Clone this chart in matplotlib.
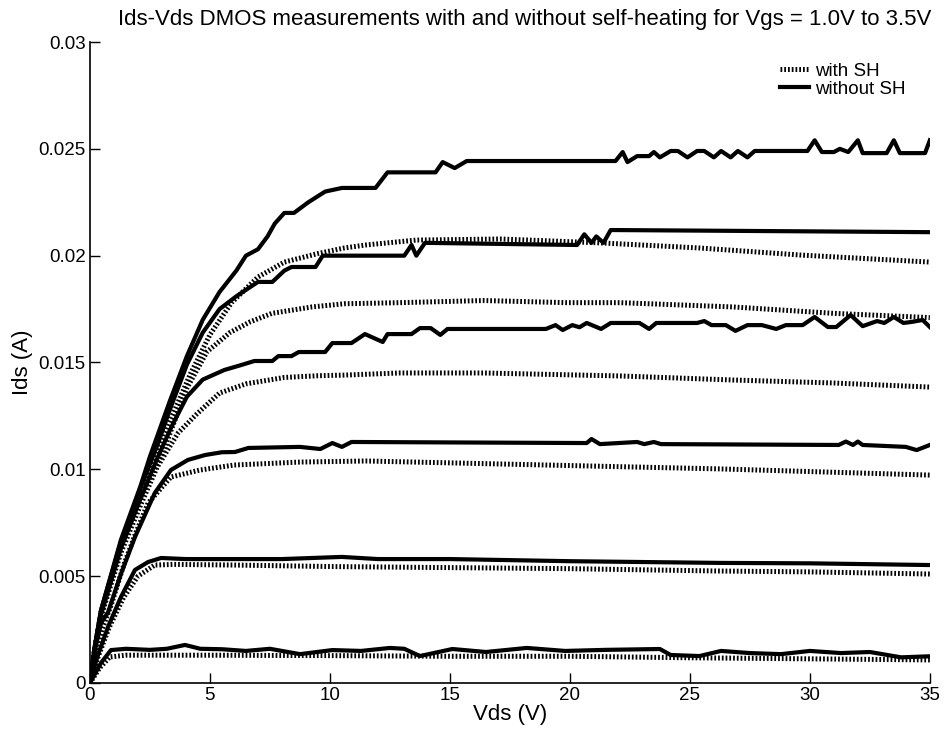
import matplotlib
matplotlib.use("Agg")
import matplotlib.pyplot as plt

plt.rcParams['font.family'] = ['Liberation Sans', 'DejaVu Sans']

# --- digitised curves, Vds (V) vs Ids (A) ---
# without self-heating (solid)
x_ns1 = [0, 0.46, 0.875, 1.5, 2.5, 3.2, 3.96, 4.6, 5.5, 6.5, 7.5, 8.75, 10.1, 11.3, 12.5, 13.1, 13.75, 15.1,
         16.5, 18.2, 19.8, 21.5, 23.75, 24.2, 25.4, 26.3, 27.5, 28.8, 30.0, 31.3, 32.5, 33.8, 35]
y_ns1 = [0, 0.00094, 0.00154, 0.0016, 0.00155, 0.0016, 0.00178, 0.0016, 0.00158, 0.0015, 0.0016, 0.00135,
         0.00154, 0.0015, 0.00164, 0.0016, 0.00126, 0.00159, 0.00145, 0.00164, 0.0015, 0.00155, 0.00159,
         0.00131, 0.00126, 0.0015, 0.0014, 0.00135, 0.0015, 0.0014, 0.00145, 0.0012, 0.00125]

x_ns2 = [0, 0.3, 0.75, 1.29, 1.875, 2.42, 2.96, 4, 6, 8, 10.5, 12, 15, 20, 26.25, 30, 35]
y_ns2 = [0, 0.0012, 0.00262, 0.00402, 0.00529, 0.00566, 0.00585, 0.0058, 0.0058, 0.0058, 0.0059, 0.0058,
         0.0058, 0.0057, 0.00562, 0.0056, 0.00552]

x_ns3 = [0, 0.2, 0.46, 0.75, 1.29, 1.875, 2.7, 3.375, 4.08, 4.8, 5.5, 6.04, 6.6, 8.75, 9.6, 10.1, 10.5, 10.9,
         20.7, 20.9, 21.25, 22.8, 23.1, 23.5, 23.8, 31.2, 31.5, 31.8, 32.0, 32.2, 34.0, 34.45, 35]
y_ns3 = [0, 0.0015, 0.0028, 0.0033, 0.0051, 0.00683, 0.00889, 0.00997, 0.01044, 0.01067, 0.0108, 0.01081,
         0.0110, 0.01105, 0.01095, 0.01123, 0.01105, 0.01128, 0.01123, 0.01142, 0.01118, 0.01128, 0.01118,
         0.01128, 0.01118, 0.01114, 0.0113, 0.01114, 0.0113, 0.01114, 0.01105, 0.0109, 0.01114]

x_ns4 = [0, 0.2, 0.46, 1.29, 2.1, 2.8, 3.4, 4.04, 4.7, 5.6, 6.3, 6.85, 7.6, 7.85, 8.4, 8.7, 9.8, 10.1, 10.9,
         11.46, 12.2, 12.4, 13.4, 13.75, 14.2, 14.6, 14.9, 19.0, 19.4, 19.7, 20.1, 20.4, 20.7, 21.3, 21.7,
         22.9, 23.3, 23.6, 25.3, 25.6, 25.9, 26.5, 26.9, 27.4, 28.0, 28.6, 29.0, 29.7, 30.2, 30.75, 31.1,
         31.7, 32.2, 32.8, 33.1, 33.5, 33.9, 34.25, 34.7, 35]
y_ns4 = [0, 0.0016, 0.0032, 0.0063, 0.0086, 0.0105, 0.0120, 0.0134, 0.0142, 0.01465, 0.01488, 0.01507,
         0.01507, 0.0153, 0.0153, 0.01549, 0.01549, 0.01591, 0.01591, 0.01633, 0.01596, 0.01633, 0.01633,
         0.01661, 0.01661, 0.01629, 0.01657, 0.01657, 0.01675, 0.01652, 0.01675, 0.01665, 0.01685, 0.01657,
         0.01685, 0.01685, 0.01657, 0.01685, 0.01685, 0.01694, 0.01675, 0.01675, 0.01648, 0.01675, 0.01675,
         0.01657, 0.01675, 0.01675, 0.01713, 0.01666, 0.01666, 0.01722, 0.0167, 0.01694, 0.01685, 0.01713,
         0.01685, 0.0169, 0.01699, 0.01666]

x_ns5 = [0, 0.2, 0.46, 1.29, 2.1, 2.83, 3.33, 4.04, 4.7, 5.4, 6.1, 7.0, 7.6, 8.1, 8.4, 9.4, 9.7, 13.1, 13.4,
         13.6, 13.96, 20.3, 20.6, 20.9, 21.1, 21.4, 21.7, 35]
y_ns5 = [0, 0.0017, 0.0034, 0.0066, 0.0091, 0.0112, 0.0128, 0.0149, 0.0164, 0.0175, 0.0181, 0.01877,
         0.01877, 0.0193, 0.01947, 0.01947, 0.0200, 0.0200, 0.0205, 0.0200, 0.0206, 0.0205, 0.0210, 0.0206,
         0.0209, 0.0206, 0.0212, 0.0211]

x_ns6 = [0, 0.2, 0.46, 1.29, 2.1, 2.5, 3.33, 4.04, 4.7, 5.4, 6.1, 6.5, 7.0, 7.4, 7.7, 8.1, 8.5, 9.1, 9.8,
         10.5, 11.9, 12.4, 14.4, 14.7, 15.2, 15.7, 21.9, 22.2, 22.4, 22.8, 23.3, 23.5, 23.75, 24.2, 24.5,
         24.9, 25.3, 25.6, 26.0, 26.3, 26.7, 27.0, 27.4, 27.7, 29.9, 30.2, 30.5, 31.0, 31.25, 31.6, 32.0,
         32.2, 33.2, 33.5, 33.75, 34.8, 35]
y_ns6 = [0, 0.0017, 0.0034, 0.0067, 0.0092, 0.0106, 0.0132, 0.0153, 0.0170, 0.0183, 0.0193, 0.0200,
         0.0203, 0.0209, 0.0215, 0.0220, 0.0220, 0.0225, 0.0230, 0.02317, 0.02317, 0.0239, 0.0239, 0.02438,
         0.0241, 0.02443, 0.02443, 0.02485, 0.02438, 0.02466, 0.02466, 0.02485, 0.0246, 0.0249, 0.0249,
         0.0246, 0.0249, 0.0249, 0.0246, 0.0249, 0.0246, 0.0249, 0.0246, 0.0249, 0.0249, 0.0254, 0.02485,
         0.02485, 0.0250, 0.02485, 0.0254, 0.0248, 0.0248, 0.0254, 0.0248, 0.0248, 0.0254]

# with self-heating (dotted)
x_sh1 = [0, 0.4, 0.83, 1.5, 5, 10, 15, 20, 25, 30, 35]
y_sh1 = [0, 0.0007, 0.00122, 0.0013, 0.0013, 0.00128, 0.00125, 0.00125, 0.00118, 0.00113, 0.00108]

x_sh2 = [0, 0.3, 0.8, 1.4, 2.0, 2.7, 3.5, 6, 10, 15, 20, 26.25, 30, 35]
y_sh2 = [0, 0.0011, 0.0026, 0.0040, 0.0050, 0.00552, 0.00555, 0.00552, 0.00545, 0.0054, 0.00535, 0.00524,
         0.0052, 0.0051]

x_sh3 = [0, 0.2, 0.5, 0.9, 1.4, 1.9, 2.42, 3.375, 4.6, 6.0, 8.75, 11.5, 17.1, 22.6, 26.25, 35]
y_sh3 = [0, 0.0012, 0.0025, 0.0037, 0.0055, 0.0070, 0.00842, 0.00964, 0.00997, 0.0102, 0.01034, 0.01039,
         0.01025, 0.01011, 0.01002, 0.00973]

x_sh4 = [0, 0.2, 0.46, 1.29, 2.1, 2.8, 3.67, 4.46, 5.4, 6.5, 8.1, 9.5, 10.6, 12.9, 16.4, 22.1, 26.8, 31, 35]
y_sh4 = [0, 0.0016, 0.0031, 0.0061, 0.0083, 0.0101, 0.0117, 0.0126, 0.01357, 0.0140, 0.0143, 0.01438,
         0.01441, 0.01451, 0.01451, 0.01437, 0.01418, 0.01404, 0.01385]

x_sh5 = [0, 0.2, 0.46, 1.29, 2.1, 3.04, 4.04, 4.875, 5.83, 6.67, 7.58, 9.25, 10.6, 12.9, 16.4, 19.9, 22.1,
         26.8, 31.0, 35]
y_sh5 = [0, 0.0016, 0.0032, 0.0064, 0.0087, 0.0108, 0.0138, 0.0155, 0.0164, 0.0169, 0.0173, 0.0176,
         0.01775, 0.0178, 0.0179, 0.0178, 0.0178, 0.0176, 0.0173, 0.0171]

x_sh6 = [0, 0.2, 0.46, 1.29, 2.1, 2.83, 3.5, 4.2, 5.0, 5.9, 7.0, 8.1, 9.5, 10.6, 11.5, 13.6, 17.1, 21.25,
         25.4, 29.6, 35]
y_sh6 = [0, 0.0016, 0.0033, 0.0065, 0.0090, 0.0110, 0.0127, 0.0145, 0.0163, 0.0178, 0.0190, 0.0197,
         0.0201, 0.02036, 0.0205, 0.02073, 0.02078, 0.0206, 0.02036, 0.02003, 0.0197]

no_sh = [(x_ns1, y_ns1), (x_ns2, y_ns2), (x_ns3, y_ns3), (x_ns4, y_ns4), (x_ns5, y_ns5), (x_ns6, y_ns6)]
with_sh = [(x_sh1, y_sh1), (x_sh2, y_sh2), (x_sh3, y_sh3), (x_sh4, y_sh4), (x_sh5, y_sh5), (x_sh6, y_sh6)]

fig = plt.figure(figsize=(9.44, 7.41), dpi=100)
ax = fig.add_axes([0.0953, 0.0783, 0.8897, 0.865])

dot_style = dict(color='black', lw=3.6, linestyle=(0, (0.35, 0.4)), dash_capstyle='butt')
solid_style = dict(color='black', lw=3.0, solid_joinstyle='round')

for i, (xs, ys) in enumerate(with_sh):
    ax.plot(xs, ys, label='with SH' if i == 0 else None, **dot_style)
for i, (xs, ys) in enumerate(no_sh):
    ax.plot(xs, ys, label='without SH' if i == 0 else None, **solid_style)

ax.set_xlim(0, 35)
ax.set_ylim(0, 0.03)
ax.set_xticks([0, 5, 10, 15, 20, 25, 30, 35])
ax.set_yticks([0, 0.005, 0.01, 0.015, 0.02, 0.025, 0.03])
ax.set_yticklabels(['0', '0.005', '0.01', '0.015', '0.02', '0.025', '0.03'])
ax.tick_params(direction='in', length=7, width=1, labelsize=13.5, pad=3)

ax.spines['top'].set_visible(False)
ax.spines['right'].set_visible(False)
for s in ('left', 'bottom'):
    ax.spines[s].set_linewidth(1.2)

ax.set_xlabel('Vds (V)', fontsize=16, labelpad=0)
ax.set_ylabel('Ids (A)', fontsize=16, labelpad=4)
ax.set_title('Ids-Vds DMOS measurements with and without self-heating for Vgs = 1.0V to 3.5V',
             fontsize=16, pad=12, x=0.518)

ax.legend(loc='upper left', bbox_to_anchor=(0.821, 0.968), frameon=False, fontsize=13.5,
          handlelength=1.55, handletextpad=0.35, labelspacing=0.05, borderpad=0, borderaxespad=0)

fig.savefig('out.png', dpi=100)
